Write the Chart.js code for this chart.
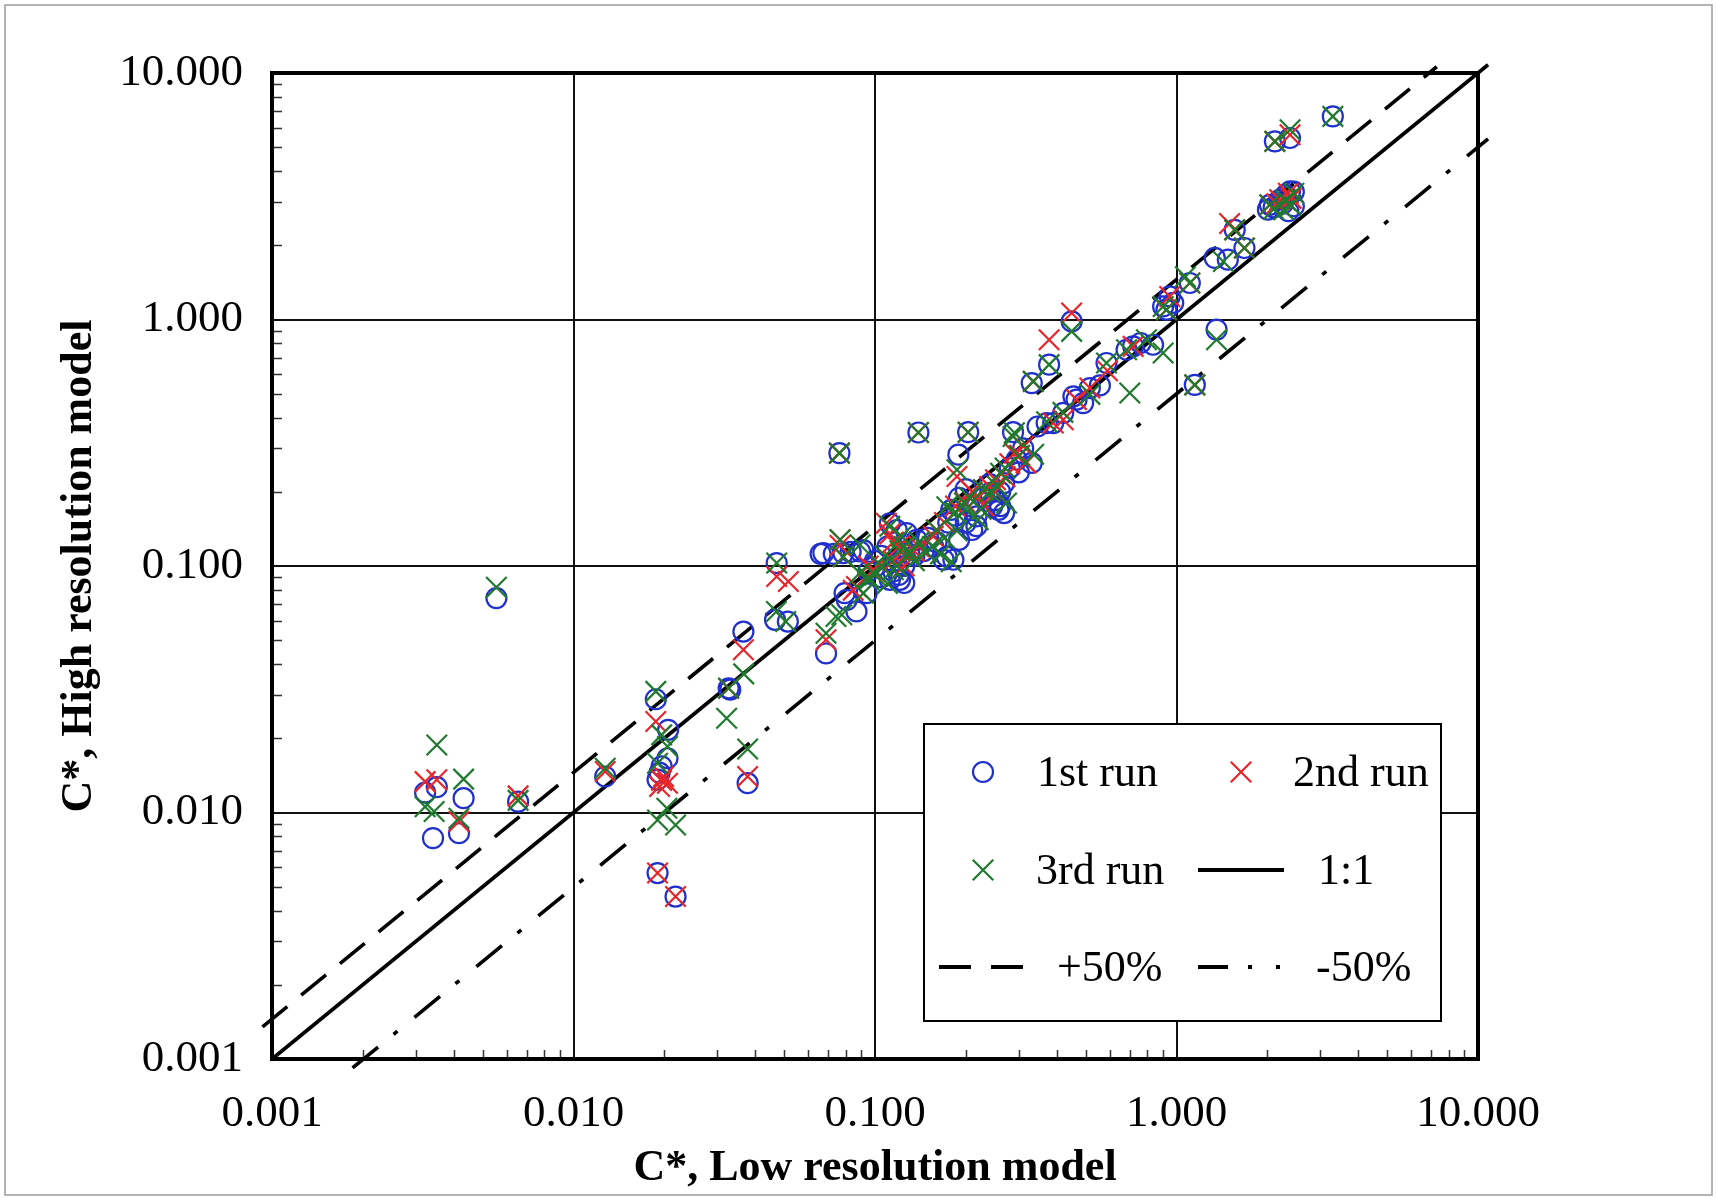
<!DOCTYPE html>
<html>
<head>
<meta charset="utf-8">
<script src="https://cdn.jsdelivr.net/npm/chart.js@4.4.1/dist/chart.umd.min.js"></script>
<style>
  html, body { margin: 0; padding: 0; background: #fff; }
  canvas { display: block; }
</style>
</head>
<body>
<canvas id="scatterChart" width="1717" height="1198"></canvas>
<script>
// axis decades and their labels
const decades = [0.001, 0.01, 0.1, 1, 10]
const tickLabels = ['0.001', '0.010', '0.100', '1.000', '10.000']

// [low resolution C*, high resolution C*]
const run1 = [
    [0.00322, 0.01205], [0.00352, 0.01267], [0.00342, 0.00787], [0.00432, 0.01143], [0.00417, 0.00824],
    [0.00655, 0.01107], [0.00555, 0.0741], [0.01274, 0.0140],
    [0.01875, 0.0288], [0.0206, 0.02165], [0.0205, 0.0166], [0.0196, 0.0154], [0.019, 0.0136], [0.0193, 0.0145],
    [0.019, 0.00568], [0.0218, 0.00456],
    [0.0327, 0.0319], [0.0331, 0.0315], [0.0366, 0.0542], [0.0378, 0.01315],
    [0.0472, 0.1028], [0.0466, 0.0605], [0.0514, 0.0595], [0.0688, 0.0442], [0.0762, 0.287],
    [0.0674, 0.1128], [0.0785, 0.1128], [0.0892, 0.1145], [0.066, 0.112], [0.073, 0.112], [0.083, 0.114],
    [0.0806, 0.0729], [0.0868, 0.0654], [0.0938, 0.0776], [0.0793, 0.0776],
    [0.0915, 0.116], [0.112, 0.149], [0.1274, 0.136], [0.121, 0.0879], [0.1375, 0.1277], [0.156, 0.1195],
    [0.169, 0.106], [0.19, 0.1277], [0.179, 0.169], [0.19, 0.189], [0.217, 0.145], [0.241, 0.198],
    [0.257, 0.169], [0.268, 0.164], [0.268, 0.217], [0.295, 0.27], [0.331, 0.262], [0.287, 0.349],
    [0.189, 0.283], [0.1393, 0.348], [0.2037, 0.349], [0.112, 0.0879], [0.125, 0.0853], [0.173, 0.109],
    [0.182, 0.106], [0.21, 0.14], [0.217, 0.159], [0.118, 0.14], [0.1, 0.105], [0.105, 0.11], [0.13, 0.112],
    [0.145, 0.115], [0.11, 0.12], [0.115, 0.095], [0.125, 0.1], [0.135, 0.11], [0.15, 0.13], [0.16, 0.125],
    [0.175, 0.15], [0.185, 0.16], [0.2, 0.15], [0.205, 0.175], [0.23, 0.19], [0.24, 0.215], [0.25, 0.185],
    [0.26, 0.2], [0.28, 0.25], [0.3, 0.24], [0.31, 0.3], [0.105, 0.09], [0.12, 0.092], [0.095, 0.095],
    [0.26, 0.175], [0.2, 0.205], [0.245, 0.175],
    [0.346, 0.368], [0.39, 0.38], [0.455, 0.488], [0.49, 0.458], [0.371, 0.38], [0.421, 0.418],
    [0.466, 0.473], [0.516, 0.527], [0.557, 0.54], [0.331, 0.552], [0.378, 0.656], [0.449, 0.982],
    [0.586, 0.666], [0.718, 0.778], [0.76, 0.803], [0.836, 0.79], [0.903, 1.13], [0.95, 1.24], [0.975, 1.167],
    [1.107, 1.406], [1.358, 0.91], [1.15, 0.543], [1.34, 1.778], [1.48, 1.749], [1.56, 2.31], [1.68, 1.95],
    [2.04, 2.92], [2.01, 2.79], [2.2, 3.06], [2.38, 3.31], [2.45, 2.88], [2.1, 2.85], [2.3, 3.2],
    [2.45, 3.3], [2.25, 2.95], [2.35, 2.75], [2.12, 5.28], [2.38, 5.45],
    [3.3, 6.67], [0.926, 1.096], [0.683, 0.754]
]

const run2 = [
    [0.00322, 0.01334], [0.00352, 0.01357], [0.00417, 0.00919], [0.00655, 0.01168], [0.01274, 0.01466],
    [0.01875, 0.0234], [0.0199, 0.014], [0.0205, 0.01315], [0.0193, 0.01274], [0.0196, 0.0135],
    [0.019, 0.00568], [0.0218, 0.00456],
    [0.0327, 0.0319], [0.0366, 0.0457], [0.0378, 0.014],
    [0.0472, 0.0906], [0.0516, 0.0865], [0.0688, 0.0502],
    [0.0762, 0.287], [0.0766, 0.1277], [0.0785, 0.109], [0.0766, 0.121],
    [0.0847, 0.0797], [0.0987, 0.0966], [0.0868, 0.0825],
    [0.109, 0.149], [0.112, 0.135], [0.12, 0.12], [0.156, 0.132], [0.229, 0.204], [0.251, 0.224],
    [0.302, 0.281], [0.317, 0.262], [0.311, 0.306], [0.421, 0.392], [0.187, 0.2307], [0.1393, 0.348],
    [0.2037, 0.349], [0.13, 0.115], [0.105, 0.1], [0.14, 0.12], [0.17, 0.15], [0.2, 0.18], [0.22, 0.19],
    [0.25, 0.2], [0.115, 0.105], [0.115, 0.125], [0.125, 0.1], [0.135, 0.115], [0.16, 0.14], [0.185, 0.175],
    [0.21, 0.2], [0.24, 0.21], [0.27, 0.23], [0.28, 0.26], [0.23, 0.175], [0.1, 0.095], [0.095, 0.1],
    [0.335, 0.561], [0.378, 0.828], [0.449, 1.062], [0.718, 0.778], [0.926, 1.096], [0.95, 1.24],
    [1.107, 1.406], [1.15, 0.543], [1.5, 2.45], [1.56, 2.31], [1.68, 1.95], [2.04, 2.92], [2.2, 3.06],
    [2.15, 2.95], [2.35, 3.25], [2.4, 3.1],
    [2.38, 5.62], [2.12, 5.28], [0.516, 0.527], [0.466, 0.473], [0.39, 0.38], [0.29, 0.287], [0.59, 0.62]
]

const run3 = [
    [0.00322, 0.01056], [0.00345, 0.0101], [0.00352, 0.0188], [0.00432, 0.01366], [0.00417, 0.00948],
    [0.00655, 0.0112], [0.00555, 0.082], [0.01274, 0.01513],
    [0.01875, 0.031], [0.0196, 0.02065], [0.0205, 0.01852], [0.019, 0.01585], [0.0204, 0.0104],
    [0.019, 0.00933], [0.0218, 0.0089],
    [0.0327, 0.0319], [0.0322, 0.0241], [0.0367, 0.0365], [0.0378, 0.0181],
    [0.0471, 0.0654], [0.0472, 0.1028], [0.0506, 0.0595], [0.0688, 0.0534],
    [0.0762, 0.287], [0.0766, 0.1277], [0.0892, 0.1219], [0.0776, 0.0634], [0.0742, 0.0624],
    [0.089, 0.0936], [0.0785, 0.109], [0.0955, 0.0879], [0.0915, 0.0776],
    [0.115, 0.0966], [0.112, 0.145], [0.1225, 0.132], [0.121, 0.115], [0.13, 0.112], [0.148, 0.114],
    [0.165, 0.112], [0.179, 0.104], [0.187, 0.139], [0.173, 0.174], [0.198, 0.18], [0.22, 0.154],
    [0.229, 0.204], [0.261, 0.238], [0.273, 0.18], [0.287, 0.335], [0.336, 0.284], [0.371, 0.385],
    [0.516, 0.497], [0.1393, 0.348], [0.2037, 0.349], [0.187, 0.2457], [0.105, 0.1], [0.11, 0.085],
    [0.14, 0.125], [0.16, 0.14], [0.2, 0.17], [0.24, 0.2], [0.108, 0.11], [0.118, 0.1], [0.125, 0.12],
    [0.135, 0.105], [0.155, 0.12], [0.17, 0.13], [0.185, 0.165], [0.205, 0.19], [0.225, 0.17],
    [0.255, 0.21], [0.27, 0.25], [0.3, 0.28], [0.095, 0.09], [0.1, 0.092],
    [0.335, 0.561], [0.449, 0.895], [0.378, 0.656], [0.586, 0.666], [0.7, 0.503], [0.795, 0.828],
    [0.903, 0.731], [0.926, 1.096], [0.903, 1.13], [1.07, 1.49], [1.107, 1.406], [1.358, 0.828],
    [1.15, 0.543], [1.43, 1.72], [1.56, 2.31], [1.68, 1.95], [2.04, 2.92], [2.27, 2.79], [2.1, 2.8],
    [2.3, 3.05], [2.45, 3.25], [2.4, 2.9], [2.38, 5.89],
    [2.12, 5.28], [3.3, 6.67], [0.42, 0.42], [0.683, 0.754], [0.29, 0.347]
]

// reference lines, end points
const oneToOne = [[0.001, 0.001], [10.8, 10.8]]
const plus50 = [[0.00093, 0.00135], [7.3, 10.6]]
const minus50 = [[0.00185, 0.00092], [10.8, 5.4]]

const toXY = (arr) => arr.map(p => ({ x: p[0], y: p[1] }))
const isDecade = (v) => decades.includes(v)

const serif = "'Liberation Serif', 'Times New Roman', serif"

const buildLogTicks = (scale) => {
    const t = []
    decades.forEach((d, i) => {
        for (let k = 1; k <= 9; k++) {
            if (i === decades.length - 1 && k > 1) break
            t.push({ value: d * k })
        }
    })
    scale.ticks = t
}

const legendItems = [
    { label: '1st run', ds: 0, x: 983, y: 772, tx: 1037 },
    { label: '2nd run', ds: 1, x: 1241, y: 772, tx: 1293 },
    { label: '3rd run', ds: 2, x: 983, y: 870, tx: 1036 },
    { label: '1:1', ds: 3, x1: 1198, x2: 1284, y: 870, tx: 1318 },
    { label: '+50%', ds: 4, x1: 939, x2: 1023, y: 967, tx: 1057, dash: [32, 20] },
    { label: '-50%', ds: 5, x1: 1198, x2: 1284, y: 967, tx: 1316, dash: [30, 20, 4, 24, 4, 100] }
]

const drawMarker = (ctx, ds, x, y) => {
    ctx.save()
    ctx.strokeStyle = ds.pointBorderColor
    ctx.lineWidth = ds.pointBorderWidth
    ctx.beginPath()
    if (ds.pointStyle === 'circle') {
        ctx.arc(x, y, ds.pointRadius, 0, Math.PI * 2)
    } else {
        const r = ds.pointRadius * Math.SQRT1_2
        ctx.moveTo(x - r, y - r); ctx.lineTo(x + r, y + r)
        ctx.moveTo(x + r, y - r); ctx.lineTo(x - r, y + r)
    }
    ctx.stroke()
    ctx.restore()
}

const decorPlugin = {
    id: 'decor',
    beforeDraw(chart) {
        const { ctx, width, height } = chart
        ctx.save()
        ctx.fillStyle = '#fff'
        ctx.fillRect(0, 0, width, height)
        ctx.strokeStyle = '#9c9c9c'
        ctx.lineWidth = 1.5
        ctx.strokeRect(5, 5, width - 10, height - 8)
        ctx.restore()
    },
    afterDraw(chart) {
        const { ctx, chartArea: a } = chart
        const xs = chart.scales.x, ys = chart.scales.y
        ctx.save()
        // minor ticks, inside the plot
        ctx.strokeStyle = '#333'
        ctx.lineWidth = 1.5
        ctx.beginPath()
        ys.ticks.filter(t => !isDecade(t.value)).forEach(t => {
            const py = Math.round(ys.getPixelForValue(t.value)) + 0.5
            ctx.moveTo(a.left, py); ctx.lineTo(a.left + 10, py)
        })
        xs.ticks.filter(t => !isDecade(t.value)).forEach(t => {
            const px = Math.round(xs.getPixelForValue(t.value)) + 0.5
            ctx.moveTo(px, a.bottom); ctx.lineTo(px, a.bottom - 9)
        })
        ctx.stroke()
        // frame
        ctx.strokeStyle = '#000'
        ctx.lineWidth = 4
        ctx.strokeRect(a.left, a.top, a.right - a.left, a.bottom - a.top)

        // legend box
        ctx.fillStyle = '#fff'
        ctx.fillRect(924, 724, 517, 297)
        ctx.lineWidth = 2
        ctx.strokeRect(924, 724, 517, 297)
        ctx.font = '44px ' + serif
        ctx.textBaseline = 'middle'
        ctx.textAlign = 'left'
        legendItems.forEach(it => {
            const ds = chart.data.datasets[it.ds]
            if (ds.showLine) {
                ctx.save()
                ctx.strokeStyle = '#000'
                ctx.lineWidth = 4
                ctx.setLineDash(it.dash || [])
                ctx.beginPath()
                ctx.moveTo(it.x1, it.y); ctx.lineTo(it.x2, it.y)
                ctx.stroke()
                ctx.restore()
            } else {
                drawMarker(ctx, ds, it.x, it.y)
            }
            ctx.fillStyle = '#000'
            ctx.fillText(it.label, it.tx, it.y + 2)
        })
        ctx.restore()
    }
}

const markerSet = (label, data, style, color, radius, order) => ({
    label: label,
    data: toXY(data),
    showLine: false,
    pointStyle: style,
    pointRadius: radius,
    pointHoverRadius: radius,
    pointBorderColor: color,
    pointBackgroundColor: 'rgba(0,0,0,0)',
    pointBorderWidth: 2.2,
    order: order
})

const lineSet = (label, data, dash) => ({
    label: label,
    data: toXY(data),
    showLine: true,
    pointRadius: 0,
    borderColor: '#000',
    borderWidth: 3.6,
    borderDash: dash,
    fill: false,
    clip: false,
    order: 3
})

const ctx = document.getElementById('scatterChart').getContext('2d')

new Chart(ctx, {
    type: 'scatter',
    data: {
        datasets: [
            markerSet('1st run', run1, 'circle', '#2030cc', 10, 2),
            markerSet('2nd run', run2, 'crossRot', '#e6262b', 14.5, 1),
            markerSet('3rd run', run3, 'crossRot', '#1f7a2e', 14.5, 0),
            lineSet('1:1', oneToOne, []),
            lineSet('+50%', plus50, [32, 18]),
            lineSet('-50%', minus50, [33, 20, 5, 22])
        ]
    },
    options: {
        responsive: false,
        animation: false,
        devicePixelRatio: 1,
        layout: {
            padding: { left: 20, right: 239, top: 73, bottom: 0 }
        },
        scales: {
            x: {
                type: 'logarithmic',
                min: 0.001,
                max: 10,
                afterBuildTicks: buildLogTicks,
                afterFit: (scale) => { scale.height = 139 },
                grid: {
                    drawTicks: false,
                    lineWidth: 2,
                    color: (c) => (c.tick && isDecade(c.tick.value)) ? '#111' : 'rgba(0,0,0,0)'
                },
                border: { display: true, color: '#000', width: 4 },
                ticks: {
                    autoSkip: false,
                    maxRotation: 0,
                    padding: 28,
                    color: '#000',
                    font: { family: serif, size: 45 },
                    callback: (value) => {
                        const i = decades.indexOf(value)
                        return i >= 0 ? tickLabels[i] : ''
                    }
                },
                title: {
                    display: true,
                    text: 'C*, Low resolution model',
                    color: '#000',
                    padding: { top: 0, bottom: 3 },
                    font: { family: serif, size: 44, weight: 'bold' }
                }
            },
            y: {
                type: 'logarithmic',
                min: 0.001,
                max: 10,
                afterBuildTicks: buildLogTicks,
                afterFit: (scale) => { scale.width = 252 },
                grid: {
                    drawTicks: false,
                    lineWidth: 2,
                    color: (c) => (c.tick && isDecade(c.tick.value)) ? '#111' : 'rgba(0,0,0,0)'
                },
                border: { display: true, color: '#000', width: 4 },
                ticks: {
                    autoSkip: false,
                    padding: 29,
                    color: '#000',
                    font: { family: serif, size: 45 },
                    callback: (value) => {
                        const i = decades.indexOf(value)
                        return i >= 0 ? tickLabels[i] : ''
                    }
                },
                title: {
                    display: true,
                    text: 'C*, High resolution model',
                    color: '#000',
                    padding: { top: 33, bottom: 0 },
                    font: { family: serif, size: 44, weight: 'bold' }
                }
            }
        },
        plugins: {
            legend: { display: false },
            tooltip: { enabled: false }
        }
    },
    plugins: [decorPlugin]
})
</script>
</body>
</html>
